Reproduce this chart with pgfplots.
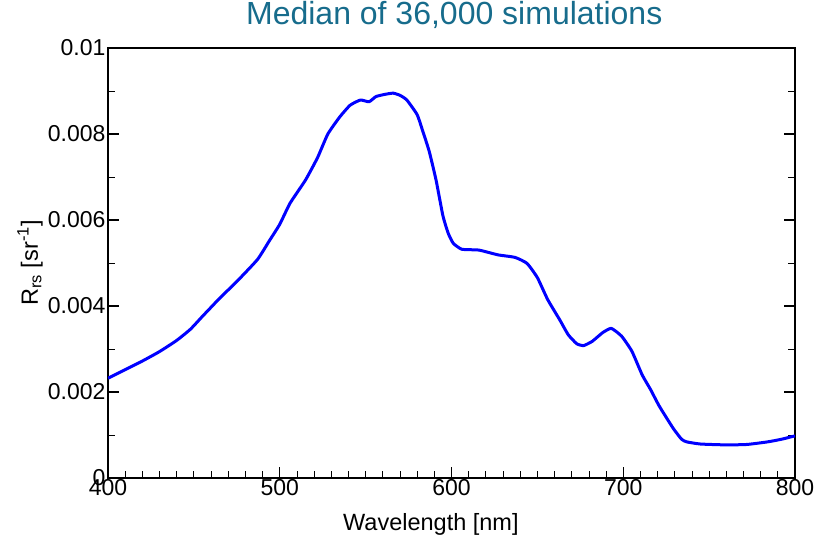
\documentclass[border=0pt]{standalone}
\usepackage{pgfplots}
\pgfplotsset{compat=1.18}
\usepackage{fontspec}
\setmainfont{Liberation Sans}
\definecolor{titlecol}{RGB}{23,108,140}
\begin{document}
\begin{tikzpicture}
\begin{axis}[
  scale only axis,
  width=687pt, height=430pt,
  xmin=400, xmax=800, ymin=0, ymax=0.01,
  xtick={400,500,600,700,800},
  minor x tick num=9,
  ytick={0,0.002,0.004,0.006,0.008,0.01},
  yticklabels={0,0.002,0.004,0.006,0.008,0.01},
  minor y tick num=1,
  xtick pos=lower, ytick pos=both,
  tick align=inside,
  major tick length=11pt, minor tick length=7pt,
  every tick/.style={black, line width=1.2pt},
  every minor tick/.style={black, line width=0.8pt},
  axis line style={line width=1.6pt},
  scaled y ticks=false,
  /pgf/number format/assume math mode=true,
  tick label style={font=\fontsize{23}{25}\selectfont},
  xticklabel style={yshift=2pt},
  yticklabel style={xshift=1pt},
  ylabel={R\textsubscript{rs} [sr\textsuperscript{-1}]},
  xlabel={Wavelength [nm]},
  label style={font=\fontsize{23.5}{26}\selectfont},
  ylabel style={at={(axis description cs:-0.1135,0.5)}, anchor=center},
  xlabel style={at={(axis description cs:0.47,-0.109)}, anchor=center},
  title={Median of 36,000 simulations},
  title style={at={(axis description cs:0.504,1.064)}, anchor=center, font=\fontsize{32}{36}\selectfont, text=titlecol},
]
\addplot[blue, line width=3pt, line join=round, smooth, tension=0.3] coordinates {
(400,0.00232) (410,0.00252) (420,0.00272) (430,0.00294) (440,0.00320)
(448,0.00346) (455,0.00376) (460,0.00397) (465,0.00418) (475,0.00457)
(487,0.00508) (494,0.00552) (500,0.00590) (506,0.00639) (515,0.00693)
(522,0.00745) (528,0.00800) (535,0.00840) (541,0.00867) (547,0.00879)
(552,0.00875) (556,0.00887) (561,0.00892) (566,0.00895) (570,0.00890)
(574,0.00879) (580,0.00845) (583,0.00810) (587,0.00760) (591,0.00693)
(595,0.00610) (598,0.00570) (601,0.00546) (606,0.00532) (616,0.00530)
(627,0.00519) (637,0.00513) (644,0.00499) (650,0.00466) (656,0.00415)
(663,0.00368) (668,0.00333) (673,0.00312) (677,0.00308) (682,0.00318)
(688,0.00338) (693,0.00348) (699,0.00330) (705,0.00295) (711,0.00240)
(716,0.00205) (721,0.00167) (729,0.00116) (734,0.00090) (737,0.00084)
(745,0.00079) (760,0.00077) (772,0.00078) (784,0.00084) (792,0.00090)
(800,0.00098)
};
\end{axis}
\pgfresetboundingbox
\path (-108pt,-64pt) rectangle (707pt,478pt);
\end{tikzpicture}
\end{document}
